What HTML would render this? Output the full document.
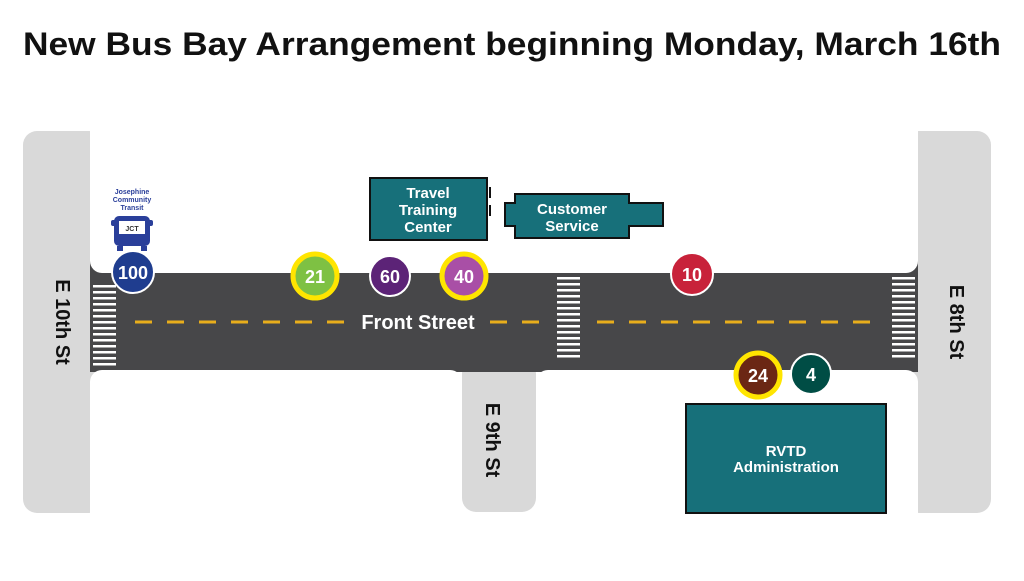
<!DOCTYPE html>
<html><head><style>
body{margin:0;width:1024px;height:576px;background:#fff;overflow:hidden;font-family:"Liberation Sans",sans-serif}
</style></head><body>
<svg width="1024" height="576" xmlns="http://www.w3.org/2000/svg" font-family="Liberation Sans, sans-serif">
<defs>
<g id="cw" fill="#fff"><rect x="0" y="0" width="23" height="2.5"/><rect x="0" y="6" width="23" height="2.5"/><rect x="0" y="12" width="23" height="2.5"/><rect x="0" y="18" width="23" height="2.5"/><rect x="0" y="24" width="23" height="2.5"/><rect x="0" y="30" width="23" height="2.5"/><rect x="0" y="36" width="23" height="2.5"/><rect x="0" y="42" width="23" height="2.5"/><rect x="0" y="48" width="23" height="2.5"/><rect x="0" y="54" width="23" height="2.5"/><rect x="0" y="60" width="23" height="2.5"/><rect x="0" y="66" width="23" height="2.5"/><rect x="0" y="72" width="23" height="2.5"/><rect x="0" y="78" width="23" height="2.5"/></g>
</defs>
<text x="512" y="55" text-anchor="middle" font-size="32" font-weight="bold" fill="#111" textLength="978" lengthAdjust="spacingAndGlyphs">New Bus Bay Arrangement beginning Monday, March 16th</text>
<!-- gray streets -->
<rect x="23" y="131" width="80" height="382" rx="14" fill="#d9d9d9"/>
<rect x="905" y="131" width="86" height="382" rx="14" fill="#d9d9d9"/>
<rect x="462" y="360" width="74" height="152" rx="14" fill="#d9d9d9"/>
<!-- road -->
<rect x="90" y="258" width="828" height="114" fill="#474749"/>
<!-- white blocks -->
<rect x="90" y="100" width="828" height="173" rx="12" fill="#fff"/>
<rect x="90" y="370" width="372" height="160" rx="12" fill="#fff"/>
<rect x="536" y="370" width="382" height="160" rx="12" fill="#fff"/>
<rect x="90" y="100" width="828" height="100" fill="#fff"/>
<rect x="100" y="395" width="352" height="140" fill="#fff"/>
<rect x="546" y="395" width="362" height="140" fill="#fff"/>
<!-- crosswalks -->
<use href="#cw" x="93" y="285"/>
<use href="#cw" x="557" y="277"/>
<use href="#cw" x="892" y="277"/>
<!-- center line -->
<line x1="135" y1="322" x2="345" y2="322" stroke="#e8ae1c" stroke-width="3" stroke-dasharray="17,15"/>
<line x1="490" y1="322" x2="548" y2="322" stroke="#e8ae1c" stroke-width="3" stroke-dasharray="17,15"/>
<line x1="597" y1="322" x2="880" y2="322" stroke="#e8ae1c" stroke-width="3" stroke-dasharray="17,15"/>
<text x="418" y="329" text-anchor="middle" font-size="20" font-weight="bold" fill="#fff">Front Street</text>
<!-- street labels -->
<text transform="translate(56,322) rotate(90)" text-anchor="middle" font-size="20" font-weight="bold" fill="#111">E 10th St</text>
<text transform="translate(950,322) rotate(90)" text-anchor="middle" font-size="20" font-weight="bold" fill="#111">E 8th St</text>
<text transform="translate(486,440) rotate(90)" text-anchor="middle" font-size="20" font-weight="bold" fill="#111">E 9th St</text>
<!-- buildings -->
<rect x="370" y="178" width="117" height="62" fill="#17707a" stroke="#111" stroke-width="2"/>
<text fill="#fff" font-size="15" font-weight="bold" text-anchor="middle"><tspan x="428" y="198">Travel</tspan><tspan x="428" y="215">Training</tspan><tspan x="428" y="232">Center</tspan></text>
<rect x="489" y="187" width="2" height="11" fill="#111"/><rect x="489" y="205" width="2" height="11" fill="#111"/>
<path d="M515 194H629V203H663V226H629V238H515V226H505V203H515Z" fill="#17707a" stroke="#111" stroke-width="2"/>
<text fill="#fff" font-size="15" font-weight="bold" text-anchor="middle"><tspan x="572" y="214">Customer</tspan><tspan x="572" y="231">Service</tspan></text>
<rect x="686" y="404" width="200" height="109" fill="#17707a" stroke="#111" stroke-width="2"/>
<text fill="#fff" font-size="15" font-weight="bold" text-anchor="middle"><tspan x="786" y="456">RVTD</tspan><tspan x="786" y="472">Administration</tspan></text>
<!-- JCT bus -->
<text fill="#2a3f9a" font-size="7" font-weight="bold" text-anchor="middle"><tspan x="132" y="194">Josephine</tspan><tspan x="132" y="202">Community</tspan><tspan x="132" y="210">Transit</tspan></text>
<rect x="114" y="216" width="36" height="30" rx="5" fill="#2a3f9a"/>
<rect x="111" y="220" width="42" height="6" rx="2" fill="#2a3f9a"/>
<rect x="119" y="221" width="26" height="13" fill="#fff"/>
<text x="132" y="231" text-anchor="middle" font-size="7" font-weight="bold" fill="#333">JCT</text>
<rect x="117" y="246" width="6" height="5" fill="#2a3f9a"/><rect x="141" y="246" width="6" height="5" fill="#2a3f9a"/>
<!-- badges -->
<g font-weight="bold" text-anchor="middle" fill="#fff" font-size="18">
<circle cx="133" cy="272" r="21" fill="#1f3d8f" stroke="#fff" stroke-width="2"/><text x="133" y="279">100</text>
<circle cx="315" cy="276" r="22" fill="#7ec143" stroke="#ffe500" stroke-width="5"/><text x="315" y="283">21</text>
<circle cx="390" cy="276" r="20" fill="#5c2377" stroke="#fff" stroke-width="2"/><text x="390" y="283">60</text>
<circle cx="464" cy="276" r="22" fill="#a94fa6" stroke="#ffe500" stroke-width="5"/><text x="464" y="283">40</text>
<circle cx="692" cy="274" r="21" fill="#c8223a" stroke="#fff" stroke-width="2"/><text x="692" y="281">10</text>
<circle cx="758" cy="375" r="22" fill="#6b2714" stroke="#ffe500" stroke-width="5"/><text x="758" y="382">24</text>
<circle cx="811" cy="374" r="20" fill="#004d45" stroke="#fff" stroke-width="2"/><text x="811" y="381">4</text>
</g>
</svg>
</body></html>
